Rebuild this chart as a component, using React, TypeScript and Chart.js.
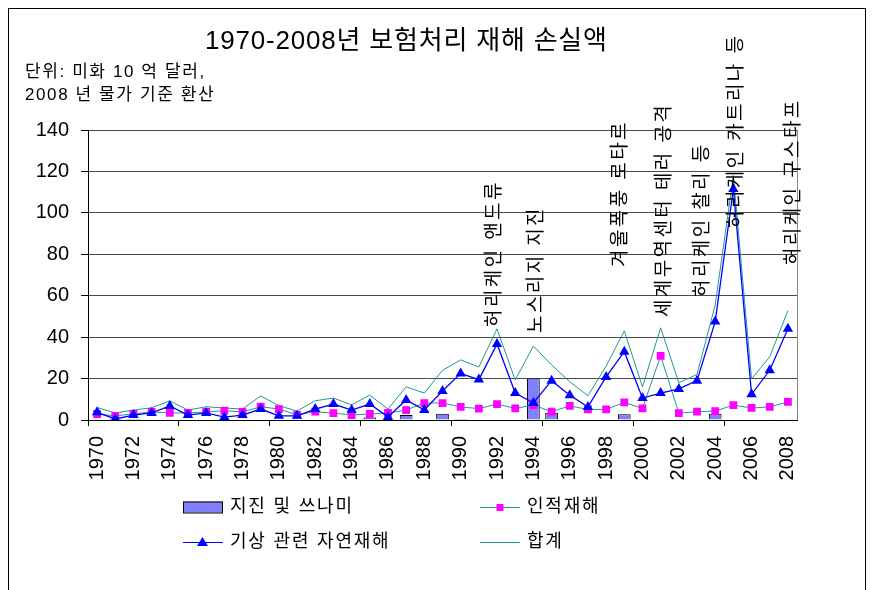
import React, { useEffect, useRef } from "react";
import { Chart, registerables } from "chart.js";

Chart.register(...registerables);

const YEARS = [
  1970, 1971, 1972, 1973, 1974, 1975, 1976, 1977, 1978, 1979,
  1980, 1981, 1982, 1983, 1984, 1985, 1986, 1987, 1988, 1989,
  1990, 1991, 1992, 1993, 1994, 1995, 1996, 1997, 1998, 1999,
  2000, 2001, 2002, 2003, 2004, 2005, 2006, 2007, 2008,
];

// 지진 및 쓰나미
const QUAKE: (number | null)[] = [
  null, 0.5, 0.5, null, null, null, null, null, null, null,
  null, null, null, null, null, 1.2, 0.4, 2.4, null, 3,
  0.5, null, null, null, 20, 3.5, null, null, null, 2.8,
  null, 0.4, null, 0.4, 3, null, null, 0.4, 0.4,
];

// 인적재해
const HUMAN = [
  2.9, 2, 2.9, 3.9, 3.4, 3.4, 3.9, 4.5, 3.9, 6.4,
  5.3, 2.5, 4, 3.3, 2.4, 2.9, 3.4, 4.8, 8.2, 8.2,
  6.3, 5.5, 7.7, 5.6, 7.2, 4, 6.8, 5.1, 5.1, 8.5,
  5.6, 31, 3.3, 4, 4.3, 7.2, 5.8, 6.3, 8.7,
];

// 기상 관련 자연재해
const WEATHER = [
  3.7, 0.5, 2.4, 3.4, 6.8, 2.4, 3.4, 1.4, 2.4, 5.3,
  2, 2, 5.3, 7.7, 4.8, 7.7, 1.5, 9.7, 4.8, 14,
  22.5, 19.5, 36.7, 13, 8.2, 19, 12, 6.3, 20.8, 33,
  10.6, 13, 15, 19, 47.5, 111.5, 12.4, 24, 44,
];

// 합계
const TOTAL = [
  6, 3.4, 4.8, 5.9, 9.2, 4.8, 6.4, 5.8, 5.3, 11.6,
  6.9, 4.3, 9.3, 10.6, 7.3, 12, 5.3, 16, 13, 24,
  29, 25.6, 44, 19.3, 35.7, 26.6, 18.5, 11.7, 26, 43,
  16, 44.5, 18, 22, 55.5, 118, 19.8, 30.5, 52.8,
];

const Y_TICKS = [0, 20, 40, 60, 80, 100, 120, 140];

const SERIES_NAMES = ["지진 및 쓰나미", "인적재해", "기상 관련 자연재해", "합계"];

const TITLE = "1970-2008년 보험처리 재해 손실액";
const SUBTITLE_1 = "단위: 미화 10 억 달러,";
const SUBTITLE_2 = "2008 년 물가 기준 환산";

// event labels: text, year position, data level where the text starts
const EVENT_TEXT = [
  "허리케인 앤드류",
  "노스리지 지진",
  "겨울폭풍 로타르",
  "세계무역센터 테러 공격",
  "허리케인 찰리 등",
  "허리케인 카트리나 등",
  "허리케인 구스타프",
];
const EVENT_YEAR = [1991.9, 1994.2, 1998.8, 2001.2, 2003.3, 2005.2, 2008.3];
const EVENT_LEVEL = [44.9, 42, 73.9, 49.7, 59.4, 92.7, 74.8];

const TEAL = "#229595";
const BLUE = "#0000FF";
const PINK = "#FF00FF";
const BAR_FILL = "#8080FF";
const LATIN = "'Liberation Sans', Arial, 'Noto Sans CJK KR', sans-serif";
const KFONT = "'Liberation Sans', 'Noto Sans CJK KR', sans-serif";

function drawSpaced(
  ctx: CanvasRenderingContext2D,
  text: string,
  x: number,
  y: number,
  spacing: number,
  spaceExtra = 0
) {
  let cx = x;
  for (const ch of Array.from(text)) {
    ctx.fillText(ch, cx, y);
    cx += ctx.measureText(ch).width + spacing + (ch === " " ? spaceExtra : 0);
  }
}

const decorPlugin = {
  id: "decor",
  afterDraw(chart: any) {
    const ctx = chart.ctx as CanvasRenderingContext2D;
    const area = chart.chartArea;
    const xs = chart.scales.x;
    const ys = chart.scales.y;
    ctx.save();

    // plot right border
    ctx.strokeStyle = "#8a8a8a";
    ctx.lineWidth = 1;
    ctx.beginPath();
    ctx.moveTo(Math.round(area.right) + 0.5, area.top);
    ctx.lineTo(Math.round(area.right) + 0.5, area.bottom);
    ctx.stroke();

    // frame
    ctx.strokeStyle = "#000";
    ctx.strokeRect(0.5, 0.5, chart.width - 1, chart.height - 1);

    ctx.fillStyle = "#000";
    ctx.textAlign = "left";
    // title
    ctx.font = `26px ${KFONT}`;
    ctx.textBaseline = "alphabetic";
    drawSpaced(ctx, TITLE, 197, 41, 0.8);

    // subtitle
    ctx.font = `17px ${KFONT}`;
    drawSpaced(ctx, SUBTITLE_1, 17, 69, 1.6);
    drawSpaced(ctx, SUBTITLE_2, 17, 92, 1.6);

    // event annotations (rotated)
    ctx.font = `19px ${KFONT}`;
    ctx.textBaseline = "middle";
    for (let i = 0; i < EVENT_TEXT.length; i++) {
      const x = xs.getPixelForValue(EVENT_YEAR[i] - YEARS[0]);
      const y = ys.getPixelForValue(EVENT_LEVEL[i]);
      ctx.save();
      ctx.translate(x, y);
      ctx.rotate(-Math.PI / 2);
      drawSpaced(ctx, EVENT_TEXT[i], 0, 0, 2.4);
      ctx.restore();
    }

    // legend
    ctx.font = `18px ${KFONT}`;
    ctx.textBaseline = "middle";
    const r1 = 499;
    const r2 = 534;
    const c1 = 175;
    const c2 = 472;
    const sp = 1.8;
    // bar box
    ctx.fillStyle = BAR_FILL;
    ctx.fillRect(c1, r1 - 5.5, 40, 11);
    ctx.strokeStyle = "#000";
    ctx.lineWidth = 1;
    ctx.strokeRect(c1 + 0.5, r1 - 5, 39, 11);
    ctx.fillStyle = "#000";
    drawSpaced(ctx, SERIES_NAMES[0], c1 + 47, r1, sp);
    // human
    ctx.strokeStyle = TEAL;
    ctx.beginPath();
    ctx.moveTo(c2, r1 + 0.5);
    ctx.lineTo(c2 + 40, r1 + 0.5);
    ctx.stroke();
    ctx.fillStyle = PINK;
    ctx.fillRect(c2 + 16.5, r1 - 3, 7, 7);
    ctx.fillStyle = "#000";
    drawSpaced(ctx, SERIES_NAMES[1], c2 + 47, r1, sp);
    // weather
    ctx.strokeStyle = BLUE;
    ctx.beginPath();
    ctx.moveTo(c1, r2 + 0.5);
    ctx.lineTo(c1 + 40, r2 + 0.5);
    ctx.stroke();
    ctx.fillStyle = BLUE;
    ctx.beginPath();
    ctx.moveTo(c1 + 19.5, r2 - 5);
    ctx.lineTo(c1 + 25, r2 + 4);
    ctx.lineTo(c1 + 14, r2 + 4);
    ctx.closePath();
    ctx.fill();
    ctx.fillStyle = "#000";
    drawSpaced(ctx, SERIES_NAMES[2], c1 + 47, r2, sp);
    // total
    ctx.strokeStyle = TEAL;
    ctx.beginPath();
    ctx.moveTo(c2, r2 + 0.5);
    ctx.lineTo(c2 + 40, r2 + 0.5);
    ctx.stroke();
    ctx.fillStyle = "#000";
    drawSpaced(ctx, SERIES_NAMES[3], c2 + 47, r2, sp);

    ctx.restore();
  },
};

export default function App() {
  const ref = useRef<HTMLCanvasElement | null>(null);

  useEffect(() => {
    if (!ref.current) return;
    const chart = new Chart(ref.current, {
      type: "bar",
      data: {
        labels: YEARS.map(String),
        datasets: [
          {
            type: "bar",
            label: SERIES_NAMES[0],
            data: QUAKE as any,
            backgroundColor: BAR_FILL,
            borderColor: "#000",
            borderWidth: 1,
            borderSkipped: "start",
            barPercentage: 0.7,
            categoryPercentage: 1,
            order: 4,
          } as any,
          {
            type: "line",
            label: SERIES_NAMES[3],
            data: TOTAL,
            borderColor: TEAL,
            borderWidth: 1,
            pointRadius: 0,
            tension: 0,
            order: 3,
          } as any,
          {
            type: "line",
            label: SERIES_NAMES[1],
            data: HUMAN,
            borderColor: TEAL,
            borderWidth: 1,
            pointStyle: "rect",
            pointRadius: 5.5,
            pointBackgroundColor: PINK,
            pointBorderColor: PINK,
            pointBorderWidth: 0,
            tension: 0,
            order: 2,
          } as any,
          {
            type: "line",
            label: SERIES_NAMES[2],
            data: WEATHER,
            borderColor: BLUE,
            borderWidth: 1.3,
            pointStyle: "triangle",
            pointRadius: 6,
            pointBackgroundColor: BLUE,
            pointBorderColor: BLUE,
            pointBorderWidth: 0,
            tension: 0,
            order: 1,
          } as any,
        ],
      },
      options: {
        responsive: false,
        animation: false,
        devicePixelRatio: 1,
        layout: { padding: { top: 122, left: 0, right: 69, bottom: 128 } },
        plugins: {
          legend: { display: false },
          title: { display: false },
          tooltip: { enabled: false },
        },
        scales: {
          x: {
            offset: true,
            grid: {
              offset: true,
              drawOnChartArea: false,
              tickLength: 6,
              color: (c: any) => (c.index % 5 === 0 ? "#000" : "rgba(0,0,0,0)"),
            },
            border: { color: "#000", width: 1 },
            ticks: {
              autoSkip: false,
              maxRotation: 90,
              minRotation: 90,
              padding: 10,
              color: "#000",
              font: { family: LATIN, size: 20 },
              callback: function (this: any, v: any, i: number) {
                return i % 2 === 0 ? this.getLabelForValue(v) : "";
              },
            },
            afterFit: (s: any) => {
              s.height = 60;
            },
          },
          y: {
            min: Y_TICKS[0],
            max: Y_TICKS[Y_TICKS.length - 1],
            afterBuildTicks: (s: any) => {
              s.ticks = Y_TICKS.map((v) => ({ value: v }));
            },
            grid: { color: "#4a4a4a", tickLength: 7, tickColor: "#000", lineWidth: 1 },
            border: { color: "#000", width: 1 },
            ticks: {
              padding: 12,
              color: "#000",
              font: { family: LATIN, size: 20 },
            },
            afterFit: (s: any) => {
              s.width = 80;
            },
          },
        },
      } as any,
      plugins: [decorPlugin],
    });
    return () => chart.destroy();
  }, []);

  return (
    <canvas
      ref={ref}
      width={858}
      height={600}
      style={{ display: "block", width: 858, height: 600 }}
    />
  );
}
